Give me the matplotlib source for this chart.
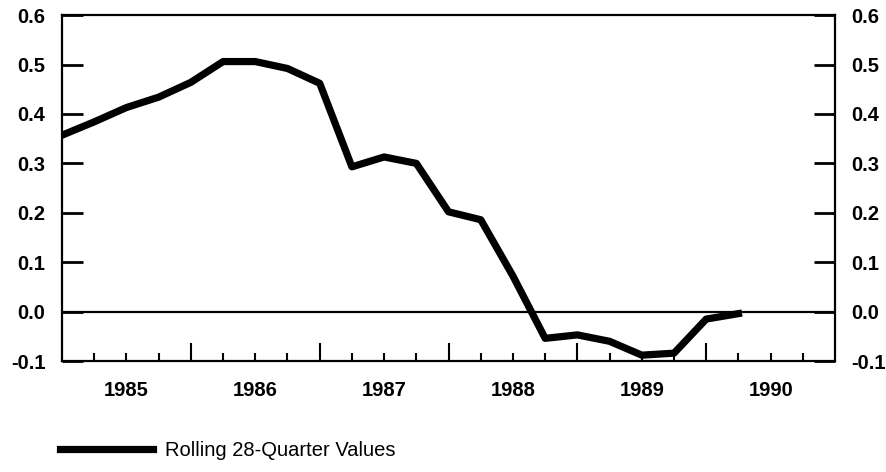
import matplotlib
matplotlib.use("Agg")
from matplotlib import pyplot as plt

# Quarterly rolling values.
quarters = ['1985Q1', '1985Q2', '1985Q3', '1985Q4',
            '1986Q1', '1986Q2', '1986Q3', '1986Q4',
            '1987Q1', '1987Q2', '1987Q3', '1987Q4',
            '1988Q1', '1988Q2', '1988Q3', '1988Q4',
            '1989Q1', '1989Q2', '1989Q3', '1989Q4',
            '1990Q1', '1990Q2']
rolling = [0.357, 0.384, 0.413, 0.434,
           0.464, 0.506, 0.506, 0.492,
           0.462, 0.293, 0.313, 0.300,
           0.202, 0.186, 0.072, -0.054,
           -0.047, -0.060, -0.088, -0.084,
           -0.015, -0.004]
years = [1985, 1986, 1987, 1988, 1989, 1990]
y_ticks = [-0.1, 0.0, 0.1, 0.2, 0.3, 0.4, 0.5, 0.6]
legend_label = 'Rolling 28-Quarter Values'

plt.rcParams['font.family'] = ['Liberation Sans', 'DejaVu Sans']

# Quarter label -> decimal year (start of quarter).
x = [int(q[:4]) + (int(q[-1]) - 1) / 4 for q in quarters]

fig = plt.figure(figsize=(8.86, 4.72), dpi=100)
ax = fig.add_axes([0.070, 0.235, 0.8725, 0.733])

ax.axhline(0, color='black', lw=1.6, zorder=1)
ax.plot(x, rolling, color='black', lw=5.2, label=legend_label,
        solid_joinstyle='round', zorder=2)

ax.set_xlim(years[0], years[-1] + 1)
ax.set_ylim(y_ticks[0], y_ticks[-1])

for s in ax.spines.values():
    s.set_linewidth(1.6)

# y axis: labels on both sides, inward ticks
ax.set_yticks(y_ticks)
ax.set_yticklabels(['%.1f' % v for v in y_ticks])
ax.tick_params(axis='y', which='major', direction='in', length=15, width=2,
               left=True, right=True, labelleft=True, labelright=True,
               pad=12, labelsize=14.5)
for lab in ax.get_yticklabels():
    lab.set_fontweight('bold')

# x axis: year labels centred in each year, quarter ticks inward
ax.xaxis.remove_overlapping_locs = False
ax.set_xticks([yr + 0.5 for yr in years])
ax.set_xticklabels([str(yr) for yr in years], fontweight='bold')
ax.tick_params(axis='x', which='major', length=0, pad=14, labelsize=14.5)
ax.set_xticks([yr + q / 4 for yr in years for q in range(1, 4)], minor=True)
ax.tick_params(axis='x', which='minor', direction='in', length=6, width=1.5)

# longer ticks at year boundaries
sec = ax.secondary_xaxis('bottom')
sec.set_xticks(years[1:])
sec.tick_params(direction='in', length=13, width=1.5, labelbottom=False)
sec.spines['bottom'].set_visible(False)

fig.legend(loc='center left', bbox_to_anchor=(0.068, 0.046), frameon=False,
           fontsize=14.5, handlelength=4.6, handletextpad=0.6,
           borderpad=0, borderaxespad=0)

fig.savefig('out.png', dpi=100)
